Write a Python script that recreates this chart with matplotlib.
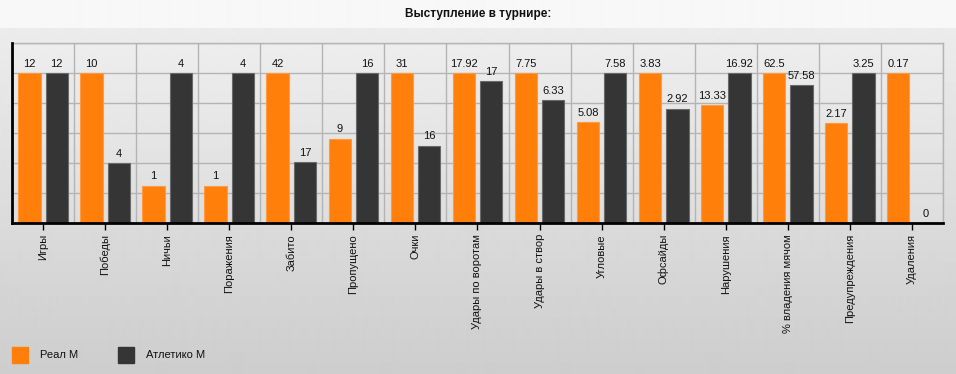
import numpy as np
import matplotlib
matplotlib.use("Agg")
import matplotlib.pyplot as plt

plt.rcParams['font.family'] = ['Liberation Sans', 'DejaVu Sans']

# Данные
categories = ['Игры', 'Победы', 'Ничьи', 'Поражения', 'Забито', 'Пропущено', 'Очки',
              'Удары по воротам', 'Удары в створ', 'Угловые', 'Офсайды', 'Нарушения',
              '% владения мячом', 'Предупреждения', 'Удаления']
real = [12, 10, 1, 1, 42, 9, 31, 17.92, 7.75, 5.08, 3.83, 13.33, 62.5, 2.17, 0.17]
atletico = [12, 4, 4, 4, 17, 16, 16, 17, 6.33, 7.58, 2.92, 16.92, 57.58, 3.25, 0]
series_names = ['Реал М', 'Атлетико М']

W, H = 956, 374
fig = plt.figure(figsize=(W / 100, H / 100), dpi=100)

# фон: светлая полоса заголовка и градиент
bg = fig.add_axes([0, 0, 1, 1], zorder=-10)
rows = np.ones(H)
rows[:28] = 0.972
rows[28:] = np.linspace(0.925, 0.805, H - 28)
bg.imshow(rows[:, None], cmap='gray', vmin=0, vmax=1, aspect='auto',
          extent=[0, 1, 0, 1], interpolation='bilinear')
bg.axis('off')

fig.text(0.5, 1 - 14 / H, 'Выступление в турнире:', ha='center', va='center',
         fontsize=8.5, fontweight='bold', color='#111111')

left, right, top, bottom = 12, 943, 43, 223
ax = fig.add_axes([left / W, 1 - bottom / H, (right - left) / W, (bottom - top) / H])
n = len(categories)
x = np.arange(n)
ax.set_xlim(-0.5, n - 0.5)
ax.set_ylim(0, 1.2)

grad = np.linspace(0.93, 0.87, 100)
ax.imshow(grad[:, None], cmap='gray', vmin=0, vmax=1, aspect='auto',
          extent=[-0.5, n - 0.5, 0, 1.2], zorder=0, interpolation='bilinear')

ax.set_yticks(np.arange(0, 1.21, 0.2))
ax.set_xticks(np.arange(-0.5, n, 1), minor=True)
ax.grid(True, which='major', axis='y', color='#b4b4b4', linewidth=1, zorder=1)
ax.grid(True, which='minor', axis='x', color='#b4b4b4', linewidth=1, zorder=1)
ax.tick_params(axis='y', length=0, labelleft=False)
ax.tick_params(axis='x', which='minor', length=0)
ax.tick_params(axis='x', which='major', length=5, width=1, color='black', pad=3)
ax.set_xticks(x)
ax.set_xticklabels(categories, rotation=90, va='top', fontsize=8, color='#111111')

for s in ['top', 'right']:
    ax.spines[s].set_color('#b4b4b4')
    ax.spines[s].set_linewidth(1)
for s in ['left', 'bottom']:
    ax.spines[s].set_color('black')
    ax.spines[s].set_linewidth(2)
    ax.spines[s].set_zorder(5)

width = 0.36
offset = 0.22
for i in range(n):
    m = max(real[i], atletico[i])
    hr = real[i] / m
    ha = atletico[i] / m
    ax.bar(x[i] - offset, hr, width, color='#ff7f0a', edgecolor='#ff9a40', linewidth=0.8, zorder=3)
    ax.bar(x[i] + offset, ha, width, color='#353535', edgecolor='#6a6a6a', linewidth=0.8, zorder=3)
    ax.annotate(f'{real[i]:g}', (x[i] - offset, hr), xytext=(0, 3), textcoords='offset points',
                ha='center', va='bottom', fontsize=8, color='#111111', zorder=4)
    ax.annotate(f'{atletico[i]:g}', (x[i] + offset, ha), xytext=(0, 3), textcoords='offset points',
                ha='center', va='bottom', fontsize=8, color='#111111', zorder=4)

# легенда
colors = ['#ff7f0a', '#353535']
lx = [12, 118]
for name, c, px in zip(series_names, colors, lx):
    fig.patches.append(plt.Rectangle((px / W, 1 - 363 / H), 16 / W, 16 / H,
                                     transform=fig.transFigure, color=c, zorder=5))
    fig.text((px + 28) / W, 1 - 355 / H, name, ha='left', va='center', fontsize=8, color='#111111')

fig.savefig('out.png', dpi=100)
